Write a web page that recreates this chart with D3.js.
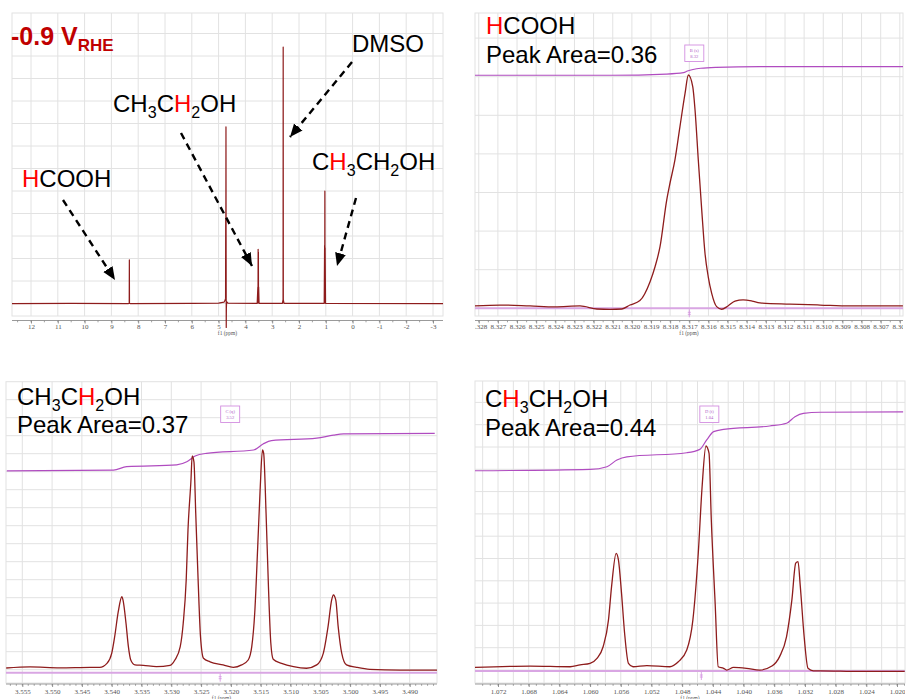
<!DOCTYPE html>
<html><head><meta charset="utf-8">
<script src="https://cdn.jsdelivr.net/npm/d3@7"></script>
<style>body{margin:0;background:#fff}svg{display:block}</style>
</head><body>
<svg id="c" width="906" height="699"></svg>
<script>
// ---------------- DATA ----------------
const overviewTicks = [12,11,10,9,8,7,6,5,4,3,2,1,0,-1,-2,-3];
const hcoohTicks = [8.328,8.327,8.326,8.325,8.324,8.323,8.322,8.321,8.320,8.319,8.318,8.317,8.316,8.315,8.314,8.313,8.312,8.311,8.310,8.309,8.308,8.307,8.306];
const ch2Ticks = [3.555,3.550,3.545,3.540,3.535,3.530,3.525,3.520,3.515,3.510,3.505,3.500,3.495,3.490];
const ch3Ticks = [1.072,1.068,1.064,1.060,1.056,1.052,1.048,1.044,1.040,1.036,1.032,1.028,1.024,1.020];

// full spectrum [ppm, intensity]
const overviewSpectrum = [
 [12.75,0.2],[10.5,0.3],[8.36,0.2],[8.335,0.3],[8.33,19.6],[8.325,0.3],[8.30,0.2],
 [6.0,0.3],[5.0,0.4],[4.80,0.8],[4.76,1.6],[4.74,2.5],[4.735,38],[4.73,20],[4.725,78.7],[4.72,30],[4.715,-10.4],[4.71,-2],[4.70,1],[4.65,0.4],
 [3.56,0.3],[3.535,7.5],[3.53,0.5],[3.525,24.3],[3.52,0.5],[3.515,23],[3.51,0.5],[3.505,7.5],[3.49,0.3],
 [2.62,0.3],[2.595,2],[2.59,114.2],[2.585,2],[2.56,0.3],
 [1.06,0.3],[1.045,26],[1.04,0.5],[1.035,50.2],[1.03,0.5],[1.025,25],[1.01,0.3],
 [-3.5,0.2]
];

const hcoohSpectrum = [
 [8.32820,1.0],[8.32689,1.4],[8.32532,1.0],[8.32402,0.6],[8.32271,1.0],[8.32182,-0.3],[8.32114,-0.5],[8.32052,-0.3],
 [8.32010,1.4],[8.31958,3.3],[8.31905,11.4],[8.31879,17.8],[8.31853,26.4],[8.31818,46.4],[8.31801,53.6],[8.31775,63.6],
 [8.31749,77.8],[8.31722,92.2],[8.31705,100],[8.31682,95.0],[8.31670,85.0],[8.31653,63.6],[8.31635,42.1],[8.31618,23.6],
 [8.31601,13.5],[8.31583,6.4],[8.31557,0.7],[8.31531,-0.4],[8.31498,1.0],[8.31461,3.1],[8.31419,3.6],[8.31372,3.1],
 [8.31331,2.3],[8.31174,1.8],[8.31017,1.4],[8.30861,1.0],[8.30704,1.0],[8.30584,1.0]
];
const hcoohIntegral = [
 [8.3282,99.9],[8.3211,99.9],[8.3182,100.4],[8.3173,101.0],[8.3171,101.7],[8.3164,102.9],[8.3156,103.3],[8.3133,103.6],[8.3058,103.6]
];

const ch2Spectrum = [
 [3.5577,2.1],[3.5537,2.6],[3.5487,2.2],[3.5436,2.4],[3.5420,2.4],[3.5408,4.2],[3.5400,8.7],[3.5395,16.2],[3.5389,27.4],
 [3.5383,34.1],[3.5381,32.6],[3.5376,22.2],[3.5372,11.7],[3.5368,5.7],[3.5361,3.5],[3.5347,3.3],[3.5325,2.7],[3.5302,3.3],
 [3.5294,5.7],[3.5285,11.7],[3.5280,22.2],[3.5275,41.6],[3.5272,64.1],[3.5267,86.5],[3.5265,97.3],[3.5262,94.7],[3.5259,71.6],
 [3.5255,41.6],[3.5251,16.2],[3.5246,6.5],[3.5235,4.9],[3.5213,3.5],[3.5196,2.4],[3.5182,3.5],[3.5171,5.7],[3.5165,11.7],
 [3.5160,26.9],[3.5155,56.6],[3.5151,82.0],[3.5147,100],[3.5145,98.5],[3.5141,71.6],[3.5137,38.6],[3.5133,13.2],[3.5129,6.0],
 [3.5115,4.2],[3.5095,2.7],[3.5073,2.0],[3.5056,3.5],[3.5045,8.7],[3.5037,20.7],[3.5031,32.6],[3.5028,34.9],[3.5024,32.6],
 [3.5020,20.7],[3.5014,8.7],[3.5006,3.5],[3.4989,2.4],[3.4967,1.5],[3.4916,1.2],[3.4854,1.2]
];
const ch2Integral = [
 [3.5576,90.6],[3.5397,91.0],[3.5375,92.5],[3.5291,93.3],[3.5274,94.7],[3.5260,97.3],[3.5241,98.5],[3.5162,100],
 [3.5146,102.7],[3.5132,104.2],[3.5056,105.3],[3.5028,106.7],[3.5011,107.2],[3.4858,107.5]
];

const ch3Spectrum = [
 [1.0750,1.6],[1.0678,2.2],[1.0626,1.9],[1.0613,2.7],[1.0600,3.4],[1.0591,5.6],[1.0583,10.8],[1.0576,22.7],[1.0572,37.5],
 [1.0566,52.3],[1.0563,49.3],[1.0559,34.5],[1.0555,16.8],[1.0550,3.4],[1.0544,1.9],[1.0526,2.4],[1.0496,1.9],[1.0485,4.1],
 [1.0474,9.3],[1.0466,22.7],[1.0459,52.3],[1.0454,81.9],[1.0449,100],[1.0445,96.8],[1.0442,67.1],[1.0437,30.1],[1.0433,1.9],
 [1.0426,1.2],[1.0422,0.4],[1.0413,1.6],[1.0396,1.2],[1.0379,0.4],[1.0363,2.2],[1.0353,6.4],[1.0344,15.2],[1.0337,31.6],
 [1.0332,47.9],[1.0329,48.6],[1.0326,37.5],[1.0321,15.2],[1.0316,1.2],[1.0309,0.1],[1.0300,0.1],[1.0248,-0.2],[1.0190,-0.2]
];
const ch3Integral = [
 [1.0750,89.0],[1.0600,89.6],[1.0578,90.8],[1.0565,93.8],[1.0552,95.2],[1.0474,97.0],[1.0457,98.5],[1.0448,102.7],
 [1.0439,106.4],[1.0426,107.4],[1.0366,108.9],[1.0344,110.1],[1.0333,113.0],[1.0322,114.5],[1.0300,115.0],[1.0192,115.2]
];

// multiplet markers: [letter, type, shift label, marker ppm]
const hcoohMultiplet = ['B','(s)','8.32',8.317];
const ch2Multiplet = ['C','(q)','3.52',3.5218];
const ch3Multiplet = ['D','(t)','1.04',1.0455];

const peakAreas = ['0.36','0.37','0.44'];
const formulaHCOOH = ['*H','COOH'];
const formulaCH2 = ['CH','_3','C','*H','_2','OH'];
const formulaCH3 = ['C','*H','_3','CH','_2','OH'];

// ---------------- DRAW ----------------
const svg = d3.select('#c');
const FONT = '"Liberation Sans", Arial, sans-serif';
const TFONT = '"Liberation Serif", "DejaVu Serif", serif';
const SPEC = '#8e1c1c', INTEG = '#b04cc0', INTBASE = '#d9a6e3', GRID = '#e2e2e2', MARK = '#d38fe0';

svg.append('rect').attr('width',906).attr('height',699).attr('fill','#fff');
const defs = svg.append('defs');
defs.append('marker').attr('id','arrow').attr('markerUnits','userSpaceOnUse')
  .attr('markerWidth',14).attr('markerHeight',12).attr('refX',13).attr('refY',5.5).attr('orient','auto')
  .append('path').attr('d','M0,0 L13,5.5 L0,11 Z').attr('fill','#000');

const panels = [
 {key:'A', L:12, T:13, R:443, B:316, xDom:[12,-3], xRan:[31,433], yRan:[304,79], axisY:320.5, pad:0.5,
  ticks:overviewTicks, minor:0.5, fmt:d=>String(d), gridX:overviewTicks, gStep:22.5, gAnchor:303.5,
  spectrum:overviewSpectrum, curve:d3.curveLinear, clipBottom:340},
 {key:'B', L:475, T:13, R:903, B:316, xDom:[8.317,8.306], xRan:[689.3,899.84], yRan:[308.3,75], axisY:320.5, pad:0.5,
  ticks:hcoohTicks, minor:0.0005, fmt:d3.format('.3f'), gridX:hcoohTicks, gStep:38.6, gAnchor:308.3,
  spectrum:hcoohSpectrum, integral:hcoohIntegral, mult:hcoohMultiplet, curve:d3.curveMonotoneX, clipBottom:316},
 {key:'C', L:6, T:381.7, R:437, B:683, xDom:[3.540,3.490], xRan:[111.7,409.7], yRan:[672.7,450], axisY:684, pad:2.5,
  ticks:ch2Ticks, minor:0.001, fmt:d3.format('.3f'), gridX:ch2Ticks, gStep:18, gAnchor:669.7,
  spectrum:ch2Spectrum, integral:ch2Integral, mult:ch2Multiplet, curve:d3.curveMonotoneX, clipBottom:683},
 {key:'D', L:475, T:381, R:905, B:683, xDom:[1.072,1.020], xRan:[498,897], yRan:[671,446], axisY:684, pad:2.5,
  ticks:ch3Ticks, minor:0.001, fmt:d3.format('.3f'), gridX:d3.range(1.074,1.0195,-0.002), gStep:22.3, gAnchor:670,
  spectrum:ch3Spectrum, integral:ch3Integral, mult:ch3Multiplet, curve:d3.curveMonotoneX, clipBottom:683}
];

panels.forEach(p => {
  const x = d3.scaleLinear().domain(p.xDom).range(p.xRan);
  const y = d3.scaleLinear().domain([0,100]).range(p.yRan);
  p.x = x; p.y = y;
  const g = svg.append('g');
  const clipId = 'clip' + p.key;
  defs.append('clipPath').attr('id', clipId).append('rect')
    .attr('x', p.L).attr('y', p.T).attr('width', p.R - p.L).attr('height', p.clipBottom - p.T);
  const axClip = 'axclip' + p.key;
  defs.append('clipPath').attr('id', axClip).append('rect')
    .attr('x', p.L).attr('y', p.axisY - 2).attr('width', p.R - p.L).attr('height', 40);

  // grid
  const gg = g.append('g').attr('stroke', GRID).attr('stroke-width', 1);
  p.gridX.forEach(v => {
    const xv = x(v);
    if (xv > p.L + 0.5 && xv < p.R - 0.5)
      gg.append('line').attr('x1', xv).attr('x2', xv).attr('y1', p.T).attr('y2', p.B);
  });
  for (let yy = p.gAnchor; yy > p.T + 2; yy -= p.gStep)
    gg.append('line').attr('x1', p.L).attr('x2', p.R).attr('y1', yy).attr('y2', yy);
  for (let yy = p.gAnchor + p.gStep; yy < p.B - 2; yy += p.gStep)
    gg.append('line').attr('x1', p.L).attr('x2', p.R).attr('y1', yy).attr('y2', yy);
  g.append('rect').attr('x', p.L).attr('y', p.T).attr('width', p.R - p.L).attr('height', p.B - p.T)
    .attr('fill','none').attr('stroke', GRID).attr('stroke-width', 1);

  // axis
  const axOuter = g.append('g').attr('clip-path', `url(#${axClip})`);
  const axG = axOuter.append('g').attr('transform', `translate(0,${p.axisY})`);
  const lo = Math.min(x.invert(p.L), x.invert(p.R)), hi = Math.max(x.invert(p.L), x.invert(p.R));
  const minorVals = d3.range(Math.ceil(lo / p.minor) * p.minor, hi, p.minor);
  axG.append('line').attr('x1', p.L).attr('x2', p.R).attr('stroke', '#9a9a9a').attr('stroke-width', 1);
  axG.selectAll('line.mn').data(minorVals).join('line').attr('class','mn')
    .attr('x1', d => x(d)).attr('x2', d => x(d)).attr('y1', 0).attr('y2', 1.8)
    .attr('stroke', '#8a8a8a').attr('stroke-width', 0.8);
  const axis = d3.axisBottom(x).tickValues(p.ticks).tickSize(3).tickPadding(p.pad).tickFormat(p.fmt);
  const ax = axG.append('g').call(axis);
  ax.select('.domain').remove();
  ax.selectAll('line').attr('stroke', '#7a7a7a').attr('stroke-width', 0.8);
  ax.selectAll('text').attr('font-family', TFONT).attr('font-size', 7).attr('fill', '#555');
  g.append('text').attr('x', (p.L + p.R) / 2).attr('y', p.axisY + (p.key === 'A' || p.key === 'B' ? 14.5 : 15.5)).attr('text-anchor','middle')
    .attr('font-family', TFONT).attr('font-size', 5.5).attr('fill', '#555').text('f1  (ppm)');

  const plot = g.append('g').attr('clip-path', `url(#${clipId})`);
  const line = d3.line().x(d => x(d[0])).y(d => y(d[1])).curve(p.curve);

  if (p.integral) {
    plot.append('line').attr('x1', p.L).attr('x2', p.R).attr('y1', y(0)).attr('y2', y(0))
      .attr('stroke', INTBASE).attr('stroke-width', 2);
    plot.append('path').datum(p.integral).attr('d', d3.line().x(d => x(d[0])).y(d => y(d[1])).curve(d3.curveMonotoneX))
      .attr('fill','none').attr('stroke', INTEG).attr('stroke-width', 1.2);
  }
  plot.append('path').datum(p.spectrum).attr('d', line)
    .attr('fill','none').attr('stroke', SPEC).attr('stroke-width', p.key === 'A' ? 1.2 : 1.3)
    .attr('stroke-linejoin','round');

  if (p.mult) {
    const mx = x(p.mult[3]);
    const my = y(0);
    const mk = g.append('g').attr('stroke', MARK).attr('stroke-width', 0.8);
    mk.append('line').attr('x1', mx).attr('x2', mx).attr('y1', my + 1).attr('y2', my + 9);
    mk.append('line').attr('x1', mx - 1.5).attr('x2', mx + 1.5).attr('y1', my + 4).attr('y2', my + 4);
    mk.append('line').attr('x1', mx - 1.5).attr('x2', mx + 1.5).attr('y1', my + 6).attr('y2', my + 6);
  }
});

// multiplet label boxes
function multBox(p, cx, cyTop) {
  const g = svg.append('g');
  g.append('rect').attr('x', cx - 9.5).attr('y', cyTop).attr('width', 19).attr('height', 16.5)
    .attr('fill', '#fff').attr('stroke', MARK).attr('stroke-width', 0.9);
  g.append('text').attr('x', cx).attr('y', cyTop + 6.8).attr('text-anchor','middle')
    .attr('font-family', TFONT).attr('font-size', 4.6).attr('fill', '#b060c8').text(p.mult[0] + ' ' + p.mult[1]);
  g.append('text').attr('x', cx).attr('y', cyTop + 12.8).attr('text-anchor','middle')
    .attr('font-family', TFONT).attr('font-size', 4.6).attr('fill', '#b060c8').text(p.mult[2]);
}
multBox(panels[1], panels[1].x(panels[1].mult[3]) + 5, 45);
multBox(panels[2], panels[2].x(panels[2].mult[3]) + 10, 406);
multBox(panels[3], panels[3].x(panels[3].mult[3]) + 8, 406);

// chemical text
function chem(x, y, parts, size) {
  const t = svg.append('text').attr('x', x).attr('y', y).attr('font-family', FONT).attr('font-size', size);
  let down = false;
  parts.forEach(s => {
    let red = false, sub = false;
    if (s[0] === '*') { red = true; s = s.slice(1); }
    if (s[0] === '_') { sub = true; s = s.slice(1); }
    const ts = t.append('tspan').text(s).attr('fill', red ? '#ff0000' : '#000');
    if (sub) { ts.attr('font-size', size * 0.67); if (!down) { ts.attr('dy', 6); down = true; } }
    else if (down) { ts.attr('dy', -6); down = false; }
  });
  return t;
}
function plain(x, y, s, size) {
  return svg.append('text').attr('x', x).attr('y', y).attr('font-family', FONT).attr('font-size', size).attr('fill', '#000').text(s);
}

// overview annotations
const vt = svg.append('text').attr('x', 11).attr('y', 45).attr('font-family', FONT).attr('font-weight','bold')
  .attr('font-size', 25).attr('fill', '#c00000');
vt.append('tspan').text('-0.9 V');
vt.append('tspan').attr('font-size', 17).attr('dy', 6).text('RHE');

plain(352, 51.7, 'DMSO', 24);
chem(113, 111.7, formulaCH2, 24);
chem(22, 187, formulaHCOOH, 24);
chem(312, 170, formulaCH3, 24);

// arrows (annotation)
const arrows = [
  [[63,200],[115,280]],
  [[181,133],[252,266]],
  [[352,62],[290,137]],
  [[356,198],[337,266]]
];
arrows.forEach(a => {
  svg.append('line').attr('x1', a[0][0]).attr('y1', a[0][1]).attr('x2', a[1][0]).attr('y2', a[1][1])
    .attr('stroke', '#000').attr('stroke-width', 2.4).attr('stroke-dasharray', '7,5')
    .attr('marker-end', 'url(#arrow)');
});

// zoom panel titles
chem(486, 34, formulaHCOOH, 24);
plain(486, 63.3, 'Peak Area=' + peakAreas[0], 24);
chem(17, 405, formulaCH2, 24);
plain(17, 433.3, 'Peak Area=' + peakAreas[1], 24);
chem(485, 407.3, formulaCH3, 24);
plain(485, 436, 'Peak Area=' + peakAreas[2], 24);
</script>
</body></html>
